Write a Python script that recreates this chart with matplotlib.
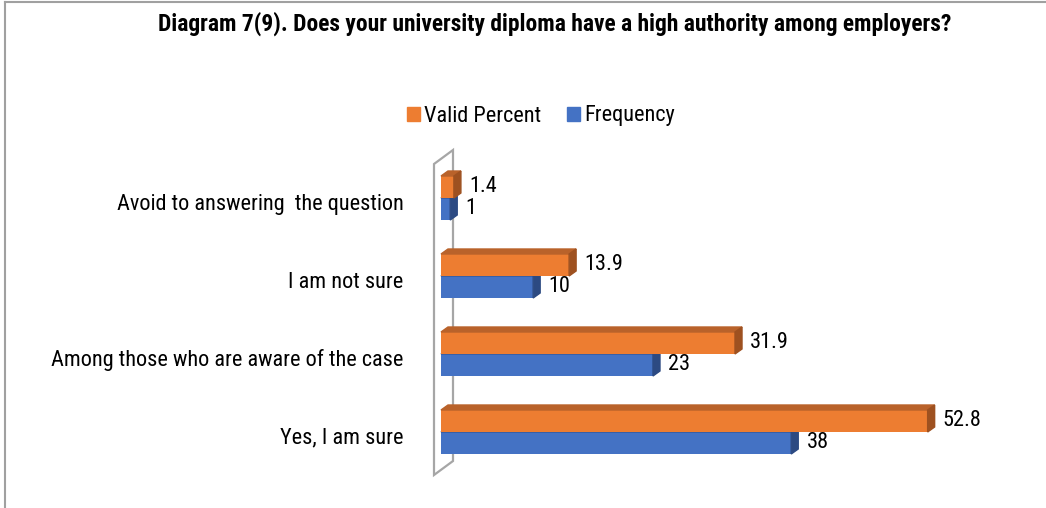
import matplotlib.pyplot as plt
from matplotlib.patches import Polygon, Patch
from matplotlib.lines import Line2D

categories = ['Yes, I am sure', 'Among those who are aware of the case',
              'I am not sure', 'Avoid to answering  the question']
valid_percent = [52.8, 31.9, 13.9, 1.4]
frequency = [38, 23, 10, 1]

W, H, DPI = 1046, 508, 100
plt.rcParams['font.family'] = ['Roboto Condensed', 'Liberation Sans', 'DejaVu Sans']

ORANGE, ORANGE_TOP, ORANGE_SIDE = '#ED7D31', '#B9622A', '#9E5120'
BLUE, BLUE_TOP, BLUE_SIDE = '#4472C4', '#34589A', '#2C4A82'

fig = plt.figure(figsize=(W / DPI, H / DPI), dpi=DPI)
ax = fig.add_axes([441 / W, (H - 486.6) / H, 553 / W, 343.2 / H])
ax.set_xlim(0, 60)
ax.set_ylim(-0.7, 3.7)
ax.axis('off')

# pixel -> data units
sx = 60 / 553
sy = 4.4 / 343.2
dx, dy = 7 * sx, 5 * sy
bh = 22 * sy


def bar3d(y0, val, front, top, side, z):
    y1 = y0 + bh
    ax.barh(y0, val, height=bh, align='edge', color=front, zorder=z)
    ax.add_patch(Polygon([(0, y1), (val, y1), (val + dx, y1 + dy), (dx, y1 + dy)],
                         closed=True, color=top, zorder=z, clip_on=False))
    ax.add_patch(Polygon([(val, y0), (val, y1), (val + dx, y1 + dy), (val + dx, y0 + dy)],
                         closed=True, color=side, zorder=z, clip_on=False))
    ax.annotate(f'{val:g}', (val, y0 + bh / 2), xytext=(11, 0), textcoords='offset points',
                ha='left', va='center', fontsize=16, zorder=z + 1)


# back wall
wall = [(-7 * sx, (432 - 164) * sy), (12 * sx, (432 - 150) * sy),
        (12 * sx, (432 - 461) * sy), (-7 * sx, (432 - 475) * sy)]
ax.add_patch(Polygon(wall, closed=True, fill=False, edgecolor='#A6A6A6', lw=1.6,
                     zorder=1, clip_on=False))

for i, cat in enumerate(categories):
    bar3d(i - bh, frequency[i], BLUE, BLUE_TOP, BLUE_SIDE, 2 + 3 * i)
    bar3d(i, valid_percent[i], ORANGE, ORANGE_TOP, ORANGE_SIDE, 3 + 3 * i)
    ax.annotate(cat, (0, i), xytext=(-27, -4.5), textcoords='offset points',
                ha='right', va='center', fontsize=16)

fig.text(555 / W, 1 - 24 / H,
         'Diagram 7(9). Does your university diploma have a high authority among employers?',
         ha='center', va='center', fontsize=16.9, fontweight='bold')

handles = [Patch(color=ORANGE, label='Valid Percent'), Patch(color=BLUE, label='Frequency')]
fig.legend(handles=handles, loc='center', bbox_to_anchor=(541 / W, 1 - 116 / H), ncol=2,
           frameon=False, fontsize=16, handlelength=0.58, handleheight=0.58,
           handletextpad=0.2, columnspacing=1.15)

fig.add_artist(Line2D([5 / W, 5 / W], [0, 1 - 1.5 / H], color='#A0A0A0', lw=1.5))
fig.add_artist(Line2D([5 / W, 1], [1 - 1.5 / H, 1 - 1.5 / H], color='#A0A0A0', lw=1.5))

fig.savefig('out.png', dpi=DPI)
